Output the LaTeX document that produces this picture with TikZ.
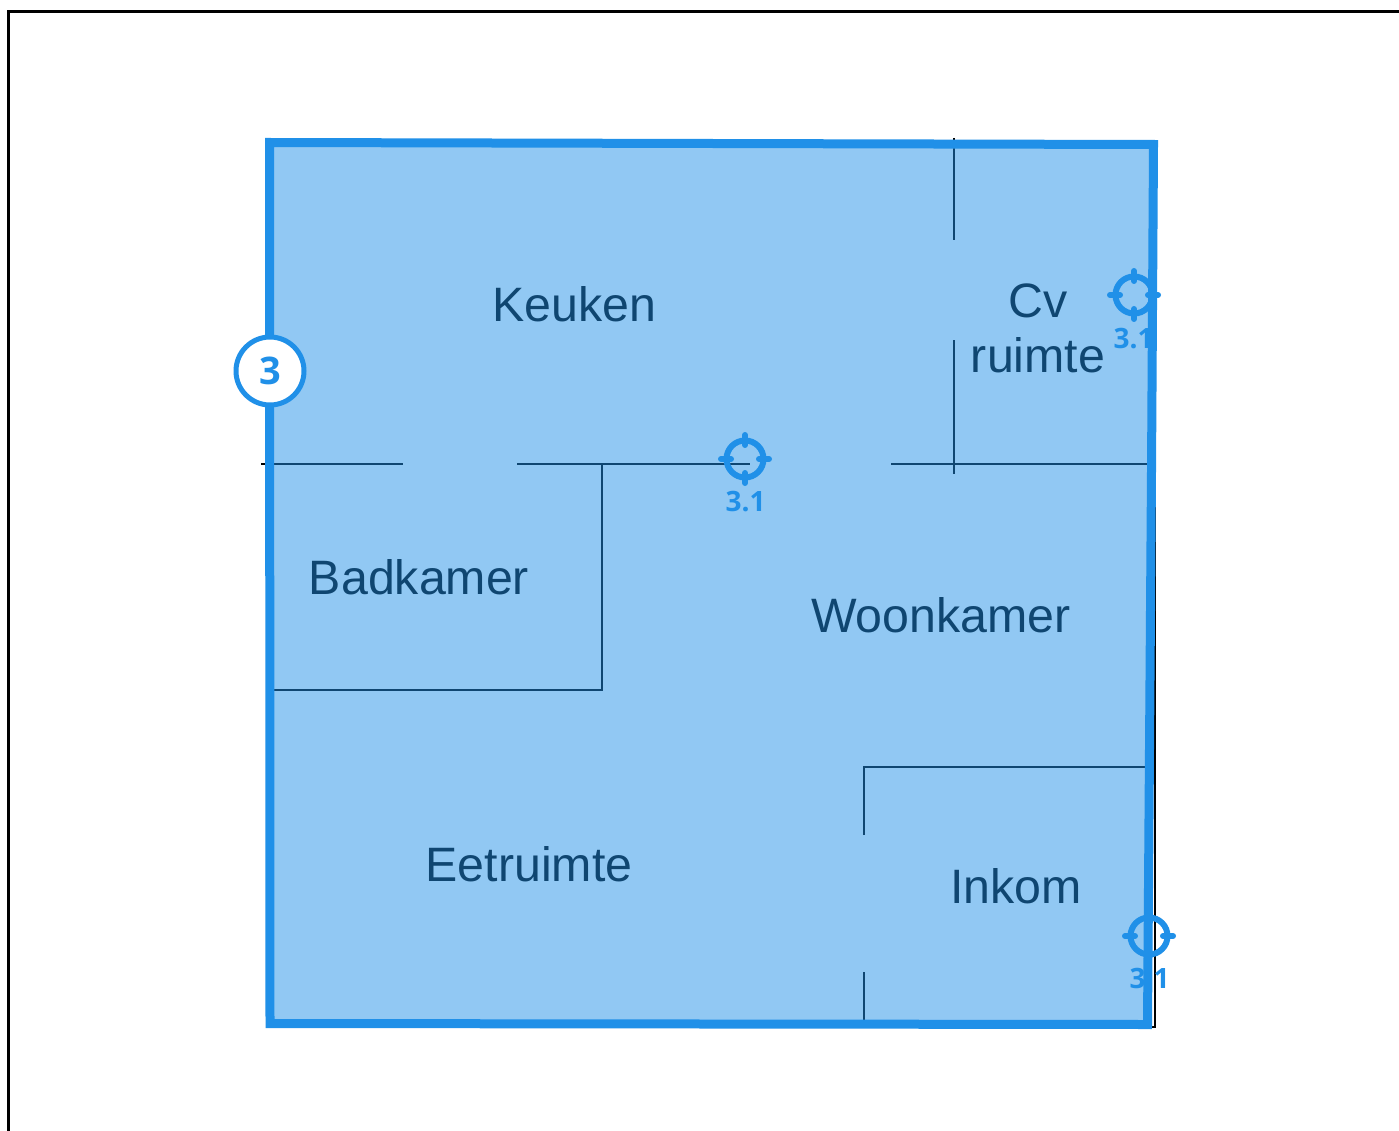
\documentclass[tikz,border=0pt]{standalone}
\usepackage{fontspec}
\setmainfont{Liberation Sans}
\newfontfamily\tagfont{Open Sans}
\definecolor{planblue}{RGB}{32,144,232}
\tikzset{
  wall/.style={draw=black,line width=2pt},
  frameline/.style={draw=black,line width=2.5pt},
  room/.style={inner sep=0pt,anchor=base,text=black,font=\fontsize{48.3}{48.3}\selectfont},
  tagtext/.style={inner sep=0pt,text=planblue,font=\tagfont\bfseries\fontsize{28}{28}\selectfont},
  ring/.style={draw=planblue,line width=6pt,circle,minimum size=37pt,inner sep=0pt},
  tick/.style={draw=planblue,line width=6pt,line cap=round},
  zone/.style={draw=none,fill=planblue,opacity=.49},
  zoneedge/.style={draw=planblue,line width=9pt,miter limit=10},
  badge/.style={circle,draw=planblue,line width=5pt,fill=white,minimum size=68pt,inner sep=0pt,text=planblue,font=\tagfont\bfseries\fontsize{38}{38}\selectfont}
}
\newcommand{\targetmark}[3]{%
  \node[ring] (#1) at (#2,#3) {};
  \draw[tick] (#2-24,#3) -- (#2-14,#3);
  \draw[tick] (#2+14,#3) -- (#2+24,#3);
  \draw[tick] (#2,#3-24) -- (#2,#3-14);
  \draw[tick] (#2,#3+14) -- (#2,#3+24);
}
\begin{document}
\begin{tikzpicture}[x=1pt,y=-1pt]
\useasboundingbox (0,0) rectangle (1399,1131);
\fill[white] (0,0) rectangle (1399,1131);
\draw[frameline] (8.5,1135) -- (8.5,11.5) -- (1403,11.5);
% walls
\draw[wall] (261,464) -- (403,464);
\draw[wall] (517,464) -- (750,464);
\draw[wall] (891,464) -- (1150,464);
\draw[wall] (602,464) -- (602,690) -- (270,690);
\draw[wall] (954,138) -- (954,240);
\draw[wall] (954,340) -- (954,474);
\draw[wall] (864,835) -- (864,767) -- (1155,767);
\draw[wall] (864,972) -- (864,1024);
\draw[wall] (1154.5,470) -- (1154.5,1026.5) -- (1146,1026.5);
% rooms
\node[room] (keuken) at (574,321.5) {Keuken};
\node[room] (cv) at (1038,317) {Cv};
\node[room] (ruimte) at (1038,372) {ruimte};
\node[room] (badkamer) at (419,594) {Badkamer};
\node[room] (woonkamer) at (941,632.5) {Woonkamer};
\node[room] (eetruimte) at (529,881) {Eetruimte};
\node[room] (inkom) at (1016,903) {Inkom};
% zone
\fill[zone] (269.5,142.5) -- (1153.5,144.5) -- (1151.5,470) -- (1147.5,1024.5) -- (270,1023.5) -- cycle;
\draw[zoneedge] (269.5,142.5) -- (1153.5,144.5) -- (1151.5,470) -- (1147.5,1024.5) -- (270,1023.5) -- cycle;
% markers
\targetmark{ta}{1134}{295}
\node[tagtext] (tal) at (1133.5,339) {3.1};
\targetmark{tb}{745}{459}
\node[tagtext] (tbl) at (745.5,502) {3.1};
\targetmark{tc}{1149}{936}
\node[tagtext] (tcl) at (1149.5,979) {3.1};
\node[badge] (three) at (270,371) {3};
\end{tikzpicture}
\end{document}
